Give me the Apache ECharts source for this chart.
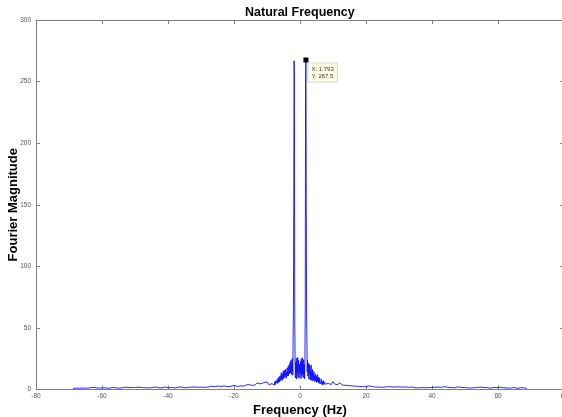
<!DOCTYPE html>
<html>
<head>
<meta charset="utf-8">
<script src="https://cdn.jsdelivr.net/npm/echarts@6/dist/echarts.min.js"></script>
<style>
  html, body { margin: 0; padding: 0; background: #fff; }
  #chart { width: 562px; height: 417px; }
</style>
</head>
<body>
<div id="chart"></div>
<script>
// FFT bin spacing (Hz); the peak sits on bin 18
const binWidth = 1.793 / 18;

// Magnitudes around the two peaks, one per bin, bins -80 .. 80
const centerStartBin = -80;
const centerMag = [
  4.1, 5.3, 3.6, 6.2, 4.8, 3.9, 7.1, 5.0, 4.2, 6.4,
  5.6, 8.3, 4.9, 6.8, 9.6, 5.7, 7.2, 10.4, 6.1, 8.0,
  11.2, 7.4, 9.1, 13.6, 8.2, 10.5, 7.3, 12.8, 9.4, 14.9,
  8.6, 11.7, 15.8, 9.9, 13.1, 10.2, 16.4, 11.5, 9.1, 14.2,
  12.4, 17.5, 10.8, 13.9, 18.6, 11.2, 15.3, 20.1, 12.6, 16.8,
  22.4, 13.5, 19.2, 24.1, 12.2, 21.8, 15.4, 25.3, 11.6, 38.5,
  64.8, 150.2, 267.0, 254.6, 62.3, 24.6, 9.3, 22.1, 12.4,
  25.3, 8.4, 19.7, 13.6, 26.1, 10.2, 17.4, 23.8, 9.1, 20.5, 14.8,
  18.6,
  12.3, 22.7, 8.9, 24.9, 15.2, 10.6, 25.8, 12.9, 19.3, 9.6, 24.2,
  11.8, 20.4, 8.7, 25.6, 66.1, 253.2, 267.5, 151.4, 65.3, 39.8,
  14.2, 23.6, 10.9, 21.4, 16.8, 8.5, 20.7, 13.2, 18.9, 7.6,
  15.1, 11.4, 19.8, 8.2, 13.7, 6.9, 16.4, 9.8, 12.1, 7.4,
  14.6, 8.8, 10.9, 6.3, 12.8, 9.5, 7.1, 11.3, 5.8, 9.9,
  7.2, 12.1, 6.4, 8.7, 5.5, 10.2, 6.8, 4.9, 9.1, 6.2,
  5.1, 7.8, 4.4, 8.3, 5.9, 4.2, 6.6, 3.8, 5.4, 7.2,
  4.1, 5.7, 3.5, 6.1, 4.3, 3.2, 5.2, 3.9, 4.6
];

// Noise floor on the negative side, every 5th bin from -690 to -85
const outerStep = 5;
const leftOuterStartBin = -690;
const leftOuterMag = [
  0.9, 1.3, 1.1, 1.6, 1.0, 1.4, 1.2, 1.8, 1.1, 1.5, 1.3, 1.0, 1.7, 1.2, 1.4, 2.3, 1.1, 1.6, 1.3,
  1.9, 1.2, 1.5, 1.0, 1.4, 1.7, 1.2, 1.3, 1.9, 1.1, 1.6, 1.4, 1.2, 2.0, 1.3, 1.5, 1.1, 1.7, 1.4,
  1.6, 1.3, 1.9, 1.2, 1.5, 2.2, 1.4, 1.7, 1.3, 1.8, 1.5, 1.2, 2.1, 1.6, 1.4, 1.9, 1.3, 1.7, 2.0, 1.5,
  1.4, 1.8, 1.6, 2.2, 1.3, 1.7, 1.9, 1.5, 2.0, 1.6, 1.4, 2.3, 1.8, 1.5, 1.9, 1.7, 2.1, 1.6, 1.8, 2.4,
  1.9, 2.2, 1.7, 2.4, 2.0, 1.8, 2.6, 2.1, 2.3, 1.9, 2.8, 2.2, 2.5, 2.0, 2.9, 2.4, 2.2, 3.1, 2.6, 2.3,
  3.3, 2.7, 2.5, 3.4, 2.9, 3.8, 2.8, 3.2, 4.1, 3.0, 3.6, 4.5, 3.3, 4.0, 5.2, 3.7, 4.6, 3.9, 5.6, 4.3,
  6.1, 4.0, 5.4, 4.7
];

// Noise floor on the positive side, every 5th bin from 85 to 690
const rightOuterStartBin = 85;
const rightOuterMag = [
  4.9, 5.8, 4.1, 6.4, 4.5, 5.1, 3.8, 5.5, 4.2, 3.6, 4.8, 3.4, 4.0, 3.1, 3.7, 2.9, 3.5, 2.7, 3.2, 2.5,
  3.0, 2.4, 2.8, 2.2, 2.6, 2.9, 2.1, 2.5, 2.3, 1.9, 2.6, 2.0, 2.4, 1.8, 2.2, 2.0, 1.7, 2.3, 1.9, 2.1,
  1.6, 2.0, 1.8, 2.2,
  1.7, 1.9, 1.5, 2.1, 1.6, 1.8, 1.4, 2.0, 1.7, 1.5, 1.9, 1.3, 1.8, 1.6, 2.2, 1.4, 1.7, 1.5, 1.9, 1.6,
  1.3, 1.8, 1.5, 2.0, 1.4, 1.7, 1.6, 2.3, 1.5, 1.8, 1.4, 1.6, 1.9, 1.3, 1.7, 2.1, 1.5, 1.8, 1.4, 1.6,
  1.9, 1.3, 1.6, 1.2, 1.8, 1.5, 1.1, 1.7, 1.4, 2.0, 1.2, 1.6, 1.3, 1.5, 1.9, 1.1, 1.4, 1.7, 1.2,
  1.5, 1.3, 1.8, 1.0, 1.4, 1.6, 1.2, 1.5, 1.1, 1.3, 1.7, 1.2, 1.0, 1.4, 1.3, 1.1, 1.5, 1.2, 0.9
];

// Axis ranges
const xRange = [-80, 80];
const xStep = 20;
const yRange = [0, 300];
const yStep = 50;

// Data cursor bin
const tipBin = 18;

function binsToPairs(startBin, step, mags) {
  return mags.map((m, i) => [(startBin + i * step) * binWidth, m]);
}

const spectrum = [].concat(
  binsToPairs(leftOuterStartBin, outerStep, leftOuterMag),
  binsToPairs(centerStartBin, 1, centerMag),
  binsToPairs(rightOuterStartBin, outerStep, rightOuterMag)
);

const tipFreq = tipBin * binWidth;
const tipMag = centerMag[tipBin - centerStartBin];

const axisGray = '#808080';
const labelStyle = { fontSize: 6.5, color: '#555', fontFamily: 'Arial, "Liberation Sans", sans-serif' };
const boldFont = 'Arial, "Liberation Sans", sans-serif';

const chart = echarts.init(document.getElementById('chart'), null, { renderer: 'canvas' });

chart.setOption({
  animation: false,
  backgroundColor: '#fff',
  title: {
    text: 'Natural Frequency',
    left: 240,
    top: 1,
    textStyle: { fontSize: 12.5, fontWeight: 'bold', color: '#000', fontFamily: boldFont }
  },
  grid: { left: 36, right: -2, top: 20, bottom: 27.5, containLabel: false, outerBoundsMode: 'none' },
  xAxis: [
    {
      type: 'value', position: 'bottom',
      min: xRange[0], max: xRange[1], interval: xStep,
      name: 'Frequency (Hz)', nameLocation: 'middle', nameGap: 14, nameMoveOverlap: false,
      nameTextStyle: { fontSize: 13, fontWeight: 'bold', color: '#000', fontFamily: boldFont },
      axisLine: { onZero: false, lineStyle: { color: axisGray, width: 1 } },
      axisTick: { inside: true, length: 4, lineStyle: { color: axisGray } },
      axisLabel: Object.assign({ margin: 3 }, labelStyle),
      splitLine: { show: false }
    },
    {
      type: 'value', position: 'top',
      min: xRange[0], max: xRange[1], interval: xStep,
      axisLine: { onZero: false, lineStyle: { color: axisGray, width: 1 } },
      axisTick: { inside: true, length: 4, lineStyle: { color: axisGray } },
      axisLabel: { show: false },
      splitLine: { show: false }
    }
  ],
  yAxis: [
    {
      type: 'value', position: 'left',
      min: yRange[0], max: yRange[1], interval: yStep,
      name: 'Fourier Magnitude', nameLocation: 'middle', nameGap: 16, nameMoveOverlap: false,
      nameTextStyle: { fontSize: 13, fontWeight: 'bold', color: '#000', fontFamily: boldFont },
      axisLine: { show: true, onZero: false, lineStyle: { color: axisGray, width: 1 } },
      axisTick: { show: true, inside: true, length: 4, lineStyle: { color: axisGray } },
      axisLabel: Object.assign({ margin: 5 }, labelStyle),
      splitLine: { show: false }
    },
    {
      type: 'value', position: 'right',
      min: yRange[0], max: yRange[1], interval: yStep,
      axisLine: { show: true, onZero: false, lineStyle: { color: axisGray, width: 1 } },
      axisTick: { show: true, inside: true, length: 4, lineStyle: { color: axisGray } },
      axisLabel: { show: false },
      splitLine: { show: false }
    }
  ],
  series: [
    {
      type: 'line',
      data: spectrum,
      xAxisIndex: 0, yAxisIndex: 0,
      showSymbol: false,
      symbol: 'none',
      lineStyle: { color: '#1010ff', width: 0.9 },
      markPoint: {
        silent: true,
        symbol: 'rect',
        symbolSize: 5,
        itemStyle: { color: '#000' },
        label: {
          show: true,
          position: [5, 6],
          align: 'left',
          verticalAlign: 'top',
          formatter: 'X: ' + tipFreq.toFixed(3) + '\nY: ' + tipMag.toFixed(1),
          fontSize: 6,
          lineHeight: 7,
          color: '#333',
          fontFamily: boldFont,
          backgroundColor: '#ffffe6',
          borderColor: '#d8d8c8',
          borderWidth: 1,
          padding: [2, 3, 2, 3]
        },
        data: [{ coord: [tipFreq, tipMag] }]
      }
    }
  ]
});
</script>
</body>
</html>
